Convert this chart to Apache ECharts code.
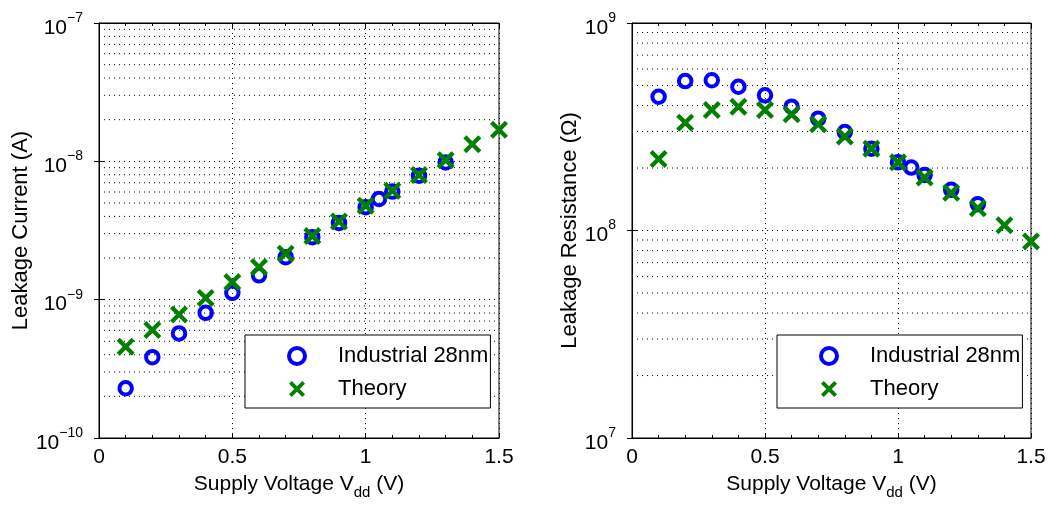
<!DOCTYPE html>
<html>
<head>
<meta charset="utf-8">
<script src="https://cdn.jsdelivr.net/npm/echarts@6/dist/echarts.min.js"></script>
<style>
  html, body { margin: 0; padding: 0; background: #fff; }
  #main { width: 1060px; height: 505px; }
</style>
</head>
<body>
<div id="main"></div>
<script>
// supply voltage (V)
const vIndustrial = [0.1, 0.2, 0.3, 0.4, 0.5, 0.6, 0.7, 0.8, 0.9, 1.0, 1.05, 1.1, 1.2, 1.3];
const vTheory = [0.1, 0.2, 0.3, 0.4, 0.5, 0.6, 0.7, 0.8, 0.9, 1.0, 1.1, 1.2, 1.3, 1.4, 1.5];

// leakage current (A)
const iIndustrial = [2.29e-10, 3.84e-10, 5.70e-10, 8.03e-10, 1.12e-9, 1.50e-9, 2.03e-9, 2.83e-9, 3.59e-9, 4.66e-9, 5.35e-9, 6.04e-9, 7.87e-9, 9.82e-9];
const iTheory = [4.57e-10, 6.03e-10, 7.81e-10, 1.03e-9, 1.34e-9, 1.72e-9, 2.15e-9, 2.88e-9, 3.67e-9, 4.78e-9, 6.13e-9, 7.96e-9, 1.02e-8, 1.33e-8, 1.69e-8];

// leakage resistance (ohm)
const rIndustrial = [4.41e8, 5.25e8, 5.30e8, 4.93e8, 4.48e8, 3.95e8, 3.46e8, 2.98e8, 2.48e8, 2.13e8, 2.01e8, 1.85e8, 1.57e8, 1.34e8];
const rTheory = [2.21e8, 3.31e8, 3.81e8, 3.95e8, 3.81e8, 3.63e8, 3.25e8, 2.84e8, 2.48e8, 2.13e8, 1.80e8, 1.52e8, 1.28e8, 1.06e8, 8.86e7];

// log minor grid
const minorMult = [2, 3, 4, 5, 6, 7, 8, 9];
const decadesCurrent = [1e-10, 1e-9, 1e-8];
const decadesResistance = [1e7, 1e8];

const FONT = 'Liberation Sans, Arial, Helvetica, sans-serif';
const BLUE = '#0000ff';
const GREEN = '#008000';
const CROSS = 'path://M0,1.7L1.7,0L5,3.3L8.3,0L10,1.7L6.7,5L10,8.3L8.3,10L5,6.7L1.7,10L0,8.3L3.3,5Z';

const pairs = (xs, ys) => xs.map((x, i) => [x, ys[i]]);

const sup = (v) => {
  const e = Math.round(Math.log10(v));
  return '{b|10}{s|' + String(e).replace('-', '\u2212') + '}';
};

const dotted = { color: '#000', width: 1, type: [1, 4] };

const makeX = (gridIndex, top) => ({
  type: 'value',
  gridIndex,
  position: top ? 'top' : 'bottom',
  min: 0,
  max: 1.5,
  interval: 0.5,
  name: top ? '' : '{a|Supply Voltage V}{sub|dd}{a| (V)}',
  nameLocation: 'middle',
  nameGap: 30,
  nameTextStyle: {
    rich: {
      a: { fontSize: 21, fontFamily: FONT, color: '#000' },
      sub: { fontSize: 15, fontFamily: FONT, color: '#000', padding: [17, 0, 0, 0] },
    },
  },
  axisLine: { show: true, onZero: false, lineStyle: { color: '#000', width: 1 } },
  axisTick: { show: true, inside: true, length: 5, lineStyle: { color: '#000' } },
  minorTick: { show: true, splitNumber: 5, length: 3, lineStyle: { color: '#000' } },
  axisLabel: {
    show: !top,
    margin: 9,
    fontSize: 21,
    fontFamily: FONT,
    color: '#000',
  },
  splitLine: { show: !top, lineStyle: dotted },
});

const makeY = (gridIndex, right, min, max, name, gap) => ({
  type: 'log',
  logBase: 10,
  gridIndex,
  position: right ? 'right' : 'left',
  min,
  max,
  name: right ? '' : name,
  nameLocation: 'middle',
  nameGap: gap,
  nameTextStyle: { fontSize: 22, fontFamily: FONT, color: '#000' },
  axisLine: { show: true, lineStyle: { color: '#000', width: 1 } },
  axisTick: { show: true, inside: true, length: 5, lineStyle: { color: '#000' } },
  axisLabel: {
    show: !right,
    margin: 16,
    formatter: sup,
    rich: {
      b: { fontSize: 21, fontFamily: FONT, color: '#000', padding: [10, 0, 0, 0] },
      s: { fontSize: 14, fontFamily: FONT, color: '#000', padding: [0, 0, 10, 0] },
    },
  },
  splitLine: { show: !right, lineStyle: dotted },
});

// dotted horizontal lines at 2..9 x each decade
const minorGrid = (xi, yi, decades) =>
  decades.flatMap((d) =>
    minorMult.map((m) => ({
      type: 'line',
      xAxisIndex: xi,
      yAxisIndex: yi,
      silent: true,
      showSymbol: false,
      symbol: 'none',
      z: 1,
      lineStyle: dotted,
      data: [[0, m * d], [1.5, m * d]],
    }))
  );

const circleSeries = (xi, yi, data) => ({
  name: 'Industrial 28nm',
  type: 'scatter',
  xAxisIndex: xi,
  yAxisIndex: yi,
  symbol: 'circle',
  symbolSize: 12.5,
  z: 3,
  itemStyle: { color: 'rgba(255,255,255,0)', borderColor: BLUE, borderWidth: 4, opacity: 1 },
  data,
});

const crossSeries = (xi, yi, data) => ({
  name: 'Theory',
  type: 'scatter',
  xAxisIndex: xi,
  yAxisIndex: yi,
  symbol: CROSS,
  symbolSize: 18,
  z: 4,
  itemStyle: { color: GREEN, opacity: 1 },
  data,
});

const makeLegend = (left) => ({
  left,
  top: 335,
  orient: 'vertical',
  padding: [10, 2, 8, 42],
  itemWidth: 72,
  itemHeight: 16,
  itemGap: 11,
  borderColor: '#000',
  borderWidth: 1,
  backgroundColor: '#fff',
  selectedMode: false,
  textStyle: { fontSize: 22, lineHeight: 16, fontFamily: FONT, color: '#000' },
  data: [
    {
      name: 'Industrial 28nm',
      icon: 'circle',
      itemStyle: { color: 'rgba(255,255,255,0)', borderColor: BLUE, borderWidth: 4 },
    },
    { name: 'Theory', icon: CROSS, itemStyle: { color: GREEN, borderWidth: 0 } },
  ],
});

const option = {
  animation: false,
  backgroundColor: '#fff',
  grid: [
    { left: 99, top: 23, width: 400, height: 417, show: true, borderColor: '#000', borderWidth: 1 },
    { left: 632, top: 23, width: 399, height: 417, show: true, borderColor: '#000', borderWidth: 1 },
  ],
  xAxis: [makeX(0, false), makeX(0, true), makeX(1, false), makeX(1, true)],
  yAxis: [
    makeY(0, false, 1e-10, 1e-7, 'Leakage Current (A)', 62),
    makeY(0, true, 1e-10, 1e-7, '', 0),
    makeY(1, false, 1e7, 1e9, 'Leakage Resistance (\u03a9)', 50),
    makeY(1, true, 1e7, 1e9, '', 0),
  ],
  legend: [makeLegend(245), makeLegend(777)],
  series: [
    ...minorGrid(0, 0, decadesCurrent),
    ...minorGrid(2, 2, decadesResistance),
    circleSeries(0, 0, pairs(vIndustrial, iIndustrial)),
    crossSeries(0, 0, pairs(vTheory, iTheory)),
    circleSeries(2, 2, pairs(vIndustrial, rIndustrial)),
    crossSeries(2, 2, pairs(vTheory, rTheory)),
  ],
};

const chart = echarts.init(document.getElementById('main'), null, { renderer: 'canvas' });
chart.setOption(option);
</script>
</body>
</html>
